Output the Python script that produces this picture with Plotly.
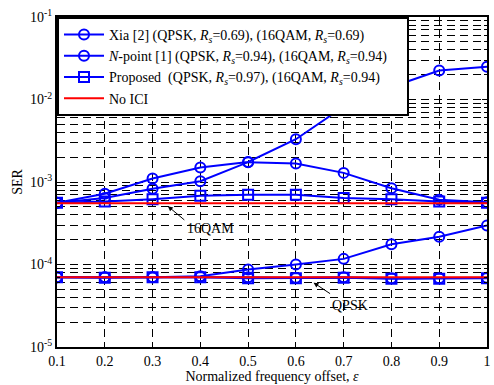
import plotly.graph_objects as go

eps = [0.1, 0.2, 0.3, 0.4, 0.5, 0.6, 0.7, 0.8, 0.9, 1.0]

xia_qpsk = [7.0e-5, 7.0e-5, 7.0e-5, 7.1e-5, 7.0e-5, 6.9e-5, 7.0e-5, 6.8e-5, 6.8e-5, 6.9e-5]
xia_16qam = [5.6e-4, 6.4e-4, 8.3e-4, 1.02e-3, 1.74e-3, 1.68e-3, 1.29e-3, 8.4e-4, 6.1e-4, 5.7e-4]
npoint_qpsk = [7.0e-5, 7.0e-5, 7.0e-5, 7.2e-5, 8.7e-5, 1.0e-4, 1.17e-4, 1.76e-4, 2.17e-4, 2.97e-4]
npoint_16qam = [5.6e-4, 7.2e-4, 1.1e-3, 1.5e-3, 1.75e-3, 3.3e-3, 8.2e-3, 1.42e-2, 2.25e-2, 2.5e-2]
prop_qpsk = [7.0e-5, 6.9e-5, 7.0e-5, 7.0e-5, 6.8e-5, 6.8e-5, 6.9e-5, 6.7e-5, 6.7e-5, 6.8e-5]
prop_16qam = [5.6e-4, 5.8e-4, 6.2e-4, 6.8e-4, 7.0e-4, 7.0e-4, 6.4e-4, 6.2e-4, 5.8e-4, 5.6e-4]
noici_qpsk = [7.0e-5] * 10
noici_16qam = [5.53e-4] * 10

xtick_vals = [0.1, 0.2, 0.3, 0.4, 0.5, 0.6, 0.7, 0.8, 0.9, 1.0]
xtick_text = ["0.1", "0.2", "0.3", "0.4", "0.5", "0.6", "0.7", "0.8", "0.9", "1"]
ytick_vals = [1e-5, 1e-4, 1e-3, 1e-2, 1e-1]
ytick_text = ["10<sup>-5</sup>", "10<sup>-4</sup>", "10<sup>-3</sup>", "10<sup>-2</sup>", "10<sup>-1</sup>"]

FONT = "Liberation Serif, Times New Roman, serif"
BLUE = "#0000FF"
RED = "#FF0000"

fig = go.Figure()

def add(y, name, symbol, show, group, color=BLUE, markers=True):
    fig.add_trace(go.Scatter(
        x=eps, y=y, name=name, legendgroup=group, showlegend=show,
        mode="lines+markers" if markers else "lines",
        line=dict(color=color, width=2),
        marker=dict(symbol=symbol, size=10, color=color,
                    line=dict(color=color, width=2)) if markers else None,
    ))

rs = "<i>R<sub>s</sub></i>"
add(xia_16qam, f"Xia [2] (QPSK, {rs}=0.69), (16QAM, {rs}=0.69)", "circle-open", True, "xia")
add(xia_qpsk, "xia_q", "circle-open", False, "xia")
add(npoint_16qam, f"<i>N</i>-point [1] (QPSK, {rs}=0.94), (16QAM, {rs}=0.94)&nbsp;&nbsp;&nbsp;&nbsp;", "circle-open", True, "np")
add(npoint_qpsk, "np_q", "circle-open", False, "np")
add(prop_16qam, f"Proposed  (QPSK, {rs}=0.97), (16QAM, {rs}=0.94)", "square-open", True, "pr")
add(prop_qpsk, "pr_q", "square-open", False, "pr")
add(noici_16qam, "No ICI", None, True, "no", color=RED, markers=False)
add(noici_qpsk, "no_q", None, False, "no", color=RED, markers=False)

grid = dict(showgrid=True, gridcolor="black", gridwidth=1, griddash="8px,5px")

fig.update_xaxes(
    range=[0.1, 1.0], tickvals=xtick_vals, ticktext=xtick_text,
    ticks="inside", ticklen=5, tickcolor="black", mirror="allticks",
    showline=True, linecolor="black", linewidth=2,
    title=dict(text="Normalized frequency offset, <i>ε</i>", font=dict(size=14, family=FONT, color="black"), standoff=3),
    tickfont=dict(size=14, family=FONT, color="black"),
    zeroline=False, **grid,
)
fig.update_yaxes(
    type="log", range=[-5, -1], tickvals=ytick_vals, ticktext=ytick_text,
    ticks="inside", ticklen=5, tickcolor="black", mirror="allticks",
    showline=True, linecolor="black", linewidth=2,
    title=dict(text="SER", font=dict(size=14, family=FONT, color="black"), standoff=4),
    tickfont=dict(size=14, family=FONT, color="black"),
    minor=dict(dtick="D1", ticks="inside", ticklen=3, tickcolor="black",
               showgrid=True, gridcolor="black", gridwidth=1, griddash="8px,5px"),
    zeroline=False, **grid,
)

# ellipses marking curve groups (log10 units on y)
fig.add_shape(type="circle", xref="x", yref="y", x0=0.320, x1=0.339, y0=-3.277, y1=-2.876,
              line=dict(color="black", width=1))
fig.add_shape(type="circle", xref="x", yref="y", x0=0.618, x1=0.637, y0=-4.22, y1=-3.888,
              line=dict(color="black", width=1))

fig.add_annotation(x=0.332, y=-3.293, ax=18, ay=15, text="", showarrow=True,
                   arrowhead=2, arrowsize=1, arrowwidth=1, arrowcolor="black")
fig.add_annotation(x=0.637, y=-4.22, ax=18, ay=12, text="", showarrow=True,
                   arrowhead=2, arrowsize=1, arrowwidth=1, arrowcolor="black")
fig.add_annotation(x=0.421, y=-3.558, text="16QAM", showarrow=False,
                   font=dict(size=14, family=FONT, color="black"))
fig.add_annotation(x=0.714, y=-4.502, text="QPSK", showarrow=False,
                   font=dict(size=14, family=FONT, color="black"))

fig.update_layout(
    width=494, height=385,
    margin=dict(l=57, r=3, t=17, b=36),
    paper_bgcolor="white", plot_bgcolor="white",
    font=dict(family=FONT, size=14, color="black"),
    showlegend=True,
    legend=dict(x=0, y=1, xanchor="left", yanchor="top",
                bgcolor="white", bordercolor="black", borderwidth=2,
                font=dict(size=14, family=FONT, color="black"),
                tracegroupgap=0, itemwidth=40),
)

fig.write_html("out.html")
